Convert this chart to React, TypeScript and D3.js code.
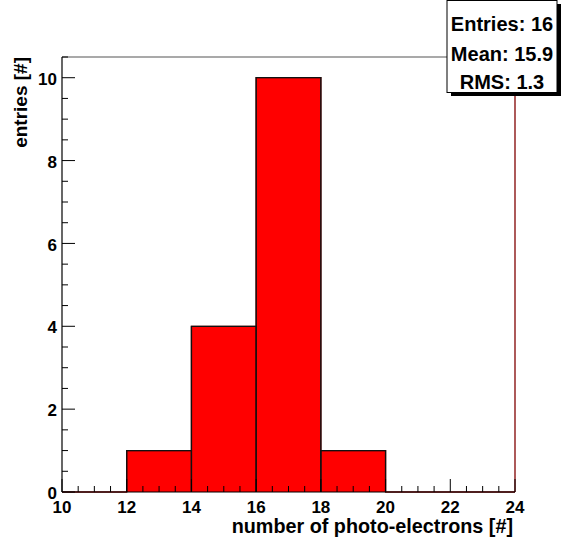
import React, { useEffect, useRef } from "react";
import * as d3 from "d3";

// histogram bins (lower edges) and counts
const binEdges = [10, 12, 14, 16, 18, 20, 22, 24];
const counts = [0, 1, 4, 10, 1, 0, 0];
const xTicks = [10, 12, 14, 16, 18, 20, 22, 24];
const yTicks = [0, 2, 4, 6, 8, 10];
const statsLines = ["Entries: 16", "Mean: 15.9", "RMS: 1.3"];

const App = () => {
  const ref = useRef<SVGSVGElement>(null);

  useEffect(() => {
    const width = 561;
    const height = 537;
    const margin = { left: 62, right: 46, top: 57, bottom: 45 };
    const font = "'Liberation Sans', Arial, sans-serif";

    const svg = d3.select(ref.current);
    svg.selectAll("*").remove();

    const x = d3.scaleLinear().domain([10, 24]).range([margin.left, width - margin.right]);
    const y = d3.scaleLinear().domain([0, 10.5]).range([height - margin.bottom, margin.top]);

    svg.append("rect").attr("width", width).attr("height", height).attr("fill", "#fff");

    // bars
    const bins = counts.map((c, i) => ({ x0: binEdges[i], x1: binEdges[i + 1], c }));
    svg
      .append("g")
      .selectAll("rect")
      .data(bins.filter((b) => b.c > 0))
      .enter()
      .append("rect")
      .attr("x", (d) => x(d.x0))
      .attr("y", (d) => y(d.c))
      .attr("width", (d) => x(d.x1) - x(d.x0))
      .attr("height", (d) => y(0) - y(d.c))
      .attr("fill", "#ff0000");

    // outline of the histogram as a step line
    const pts: [number, number][] = [[x(binEdges[0]), y(0)]];
    bins.forEach((b) => {
      pts.push([x(b.x0), y(b.c)]);
      pts.push([x(b.x1), y(b.c)]);
    });
    pts.push([x(binEdges[binEdges.length - 1]), y(0)]);
    svg
      .append("path")
      .attr("d", d3.line()(pts))
      .attr("fill", "none")
      .attr("stroke", "#800000")
      .attr("stroke-width", 1.3);
    svg
      .append("g")
      .selectAll("path")
      .data(bins.filter((b) => b.c > 0))
      .enter()
      .append("path")
      .attr("d", (d) =>
        d3.line()([
          [x(d.x0), y(0)],
          [x(d.x0), y(d.c)],
          [x(d.x1), y(d.c)],
          [x(d.x1), y(0)],
        ])
      )
      .attr("fill", "none")
      .attr("stroke", "#111")
      .attr("stroke-width", 1.3);

    // frame: top and right
    svg
      .append("line")
      .attr("x1", x(10))
      .attr("x2", x(24))
      .attr("y1", y(10.5))
      .attr("y2", y(10.5))
      .attr("stroke", "#555")
      .attr("stroke-width", 1.2);
    svg
      .append("line")
      .attr("x1", x(24))
      .attr("x2", x(24))
      .attr("y1", y(10.5))
      .attr("y2", y(0))
      .attr("stroke", "#800000")
      .attr("stroke-width", 1.3);

    // x axis
    const gx = svg.append("g").attr("transform", `translate(0,${y(0)})`);
    gx.append("line")
      .attr("x1", x(10))
      .attr("x2", x(24))
      .attr("stroke", "#000")
      .attr("stroke-width", 1.2);
    const xMinor = d3.range(10, 24.001, 0.5);
    gx.selectAll("line.tick")
      .data(xMinor)
      .enter()
      .append("line")
      .attr("class", "tick")
      .attr("x1", (d) => x(d))
      .attr("x2", (d) => x(d))
      .attr("y1", 0)
      .attr("y2", (d) => (d % 2 === 0 ? -13 : -6))
      .attr("stroke", "#000");
    gx.selectAll("text")
      .data(xTicks)
      .enter()
      .append("text")
      .attr("x", (d) => x(d))
      .attr("y", 21)
      .attr("text-anchor", "middle")
      .attr("font-family", font)
      .attr("font-weight", "bold")
      .attr("font-size", 17)
      .text((d) => d);

    // y axis
    const gy = svg.append("g").attr("transform", `translate(${x(10)},0)`);
    gy.append("line")
      .attr("y1", y(0))
      .attr("y2", y(10.5))
      .attr("stroke", "#000")
      .attr("stroke-width", 1.2);
    const yMinor = d3.range(0, 10.5001, 0.5);
    gy.selectAll("line.tick")
      .data(yMinor)
      .enter()
      .append("line")
      .attr("class", "tick")
      .attr("y1", (d) => y(d))
      .attr("y2", (d) => y(d))
      .attr("x1", 0)
      .attr("x2", (d) => (d % 2 === 0 ? 13 : 6))
      .attr("stroke", "#000");
    gy.selectAll("text")
      .data(yTicks)
      .enter()
      .append("text")
      .attr("x", -5)
      .attr("y", (d) => y(d))
      .attr("dy", "0.42em")
      .attr("text-anchor", "end")
      .attr("font-family", font)
      .attr("font-weight", "bold")
      .attr("font-size", 17)
      .text((d) => d);

    // axis titles
    svg
      .append("text")
      .attr("x", x(24) - 2)
      .attr("y", 533)
      .attr("text-anchor", "end")
      .attr("font-family", font)
      .attr("font-weight", "bold")
      .attr("font-size", 19.8)
      .text("number of photo-electrons [#]");
    svg
      .append("text")
      .attr("transform", `translate(27,${y(10.5)}) rotate(-90)`)
      .attr("text-anchor", "end")
      .attr("font-family", font)
      .attr("font-weight", "bold")
      .attr("font-size", 19)
      .text("entries [#]");

    // stats box
    const bx = 447;
    const bw = 110;
    const bh = 92;
    svg
      .append("rect")
      .attr("x", bx + 4)
      .attr("y", 4)
      .attr("width", bw)
      .attr("height", bh)
      .attr("fill", "#000");
    svg
      .append("rect")
      .attr("x", bx)
      .attr("y", 0.5)
      .attr("width", bw)
      .attr("height", bh)
      .attr("fill", "#fff")
      .attr("stroke", "#000")
      .attr("stroke-width", 1);
    svg
      .append("g")
      .selectAll("text")
      .data(statsLines)
      .enter()
      .append("text")
      .attr("x", bx + bw / 2)
      .attr("y", (_, i) => [31, 61, 89][i])
      .attr("text-anchor", "middle")
      .attr("font-family", font)
      .attr("font-weight", "bold")
      .attr("font-size", 20)
      .text((d) => d);
  }, []);

  return (
    <svg
      ref={ref}
      width={561}
      height={537}
      style={{ display: "block", position: "absolute", left: 0, top: 0 }}
    />
  );
};

export default App;
